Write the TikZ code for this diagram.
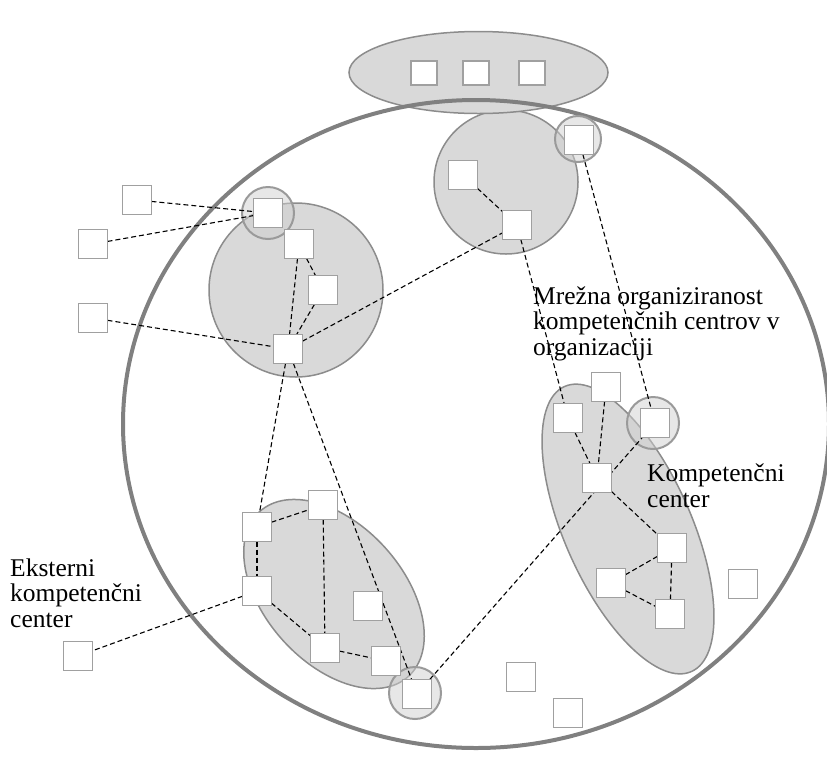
\documentclass[tikz,border=0pt]{standalone}
\usepackage{fontspec}
\setmainfont{Liberation Serif}
\definecolor{boxgray}{HTML}{A0A0A0}
\definecolor{groupfill}{HTML}{D9D9D9}
\definecolor{groupline}{HTML}{8C8C8C}
\definecolor{ringline}{HTML}{808080}
\definecolor{hubline}{HTML}{9A9A9A}
\definecolor{hubfill}{HTML}{CFCFCF}
\pgfdeclarelayer{back}
\pgfdeclarelayer{mid}
\pgfsetlayers{back,mid,main}
\begin{document}
\begin{tikzpicture}[x=1pt,y=-1pt,
  box/.style={draw=boxgray,line width=1.3pt,fill=white,minimum size=29pt,inner sep=0pt,outer sep=0pt},
  topbox/.style={box,minimum width=26pt,minimum height=24pt},
  link/.style={draw=black,line width=1.1pt,dash pattern=on 5pt off 3pt},
  cluster/.style={draw=groupline,line width=1.5pt,fill=groupfill},
  hub/.style={draw=hubline,line width=2pt,fill=hubfill,fill opacity=0.5},
  caption/.style={inner sep=0pt,anchor=base west,align=left,font=\fontsize{25.5}{25.5}\selectfont}]
\useasboundingbox (0,0) rectangle (827,756);

\begin{pgfonlayer}{back}
  % competence centres
  \draw[cluster] (296,290) circle (87);
  \draw[cluster] (506,182) circle (72);
  \draw[cluster,shift={(628,529)},rotate=-66] (0,0) ellipse (156 and 63.5);
  \draw[cluster,shift={(334,594)},rotate=-48] (0,0) ellipse (111 and 69);
  \draw[cluster] (478.5,72.5) ellipse (129.5 and 41);
  % organisation boundary
  \draw[ringline,line width=4pt] (476,424) ellipse (353 and 324);
  % linking members
  \draw[hub] (268,213) circle (26);
  \draw[hub] (578,139) circle (23);
  \draw[hub] (653,423) circle (26);
  \draw[hub] (415,693) circle (26);
\end{pgfonlayer}

% top group
\node[topbox] (t1) at (424,73) {};
\node[topbox] (t2) at (476,73) {};
\node[topbox] (t3) at (532,73) {};
% left circle
\node[box] (s1) at (268,213) {};
\node[box] (s2) at (299,244) {};
\node[box] (s3) at (323,290) {};
\node[box] (s4) at (288,349) {};
% upper circle
\node[box] (b1) at (463,175) {};
\node[box] (b2) at (517,225) {};
\node[box] (bt) at (579,140) {};
% right ellipse
\node[box] (c1) at (606,387) {};
\node[box] (c2) at (568,418) {};
\node[box] (c3) at (655,423) {};
\node[box] (c4) at (597,478) {};
\node[box] (c5) at (672,548) {};
\node[box] (c6) at (611,583) {};
\node[box] (c7) at (670,614) {};
% lower ellipse
\node[box] (d1) at (257,527) {};
\node[box] (d2) at (323,505) {};
\node[box] (d3) at (257,591) {};
\node[box] (d4) at (368,606) {};
\node[box] (d5) at (325,648) {};
\node[box] (d6) at (386,661) {};
\node[box] (d7) at (417,694) {};
% external members
\node[box] (e1) at (137,200) {};
\node[box] (e2) at (93,244) {};
\node[box] (e3) at (93,318) {};
\node[box] (e4) at (78,656) {};
% unattached members
\node[box] (i1) at (743,584) {};
\node[box] (i2) at (521,677) {};
\node[box] (i3) at (568,713) {};

\begin{pgfonlayer}{mid}
  \foreach \a/\b in {e1/s1,e2/s1,e3/s4,s2/s3,s2/s4,s3/s4,s4/b2,b1/b2,b2/c2,bt/c3,
                     s4/d1,s4/d7,d1/d2,d1/d3,d2/d5,d3/d5,d5/d6,d3/e4,d7/c3,
                     c1/c4,c2/c4,c4/c5,c5/c6,c5/c7,c6/c7}
    \draw[link] (\a) -- (\b);
\end{pgfonlayer}

% captions (anchored at the baseline of their last line)
\node[caption] (net) at (533,355) {Mrežna organiziranost\\kompetenčnih centrov v\\organizaciji};
\node[caption] (kc) at (647,507) {Kompetenčni\\center};
\node[caption] (ext) at (10,627) {Eksterni\\kompetenčni\\center};
\end{tikzpicture}
\end{document}
